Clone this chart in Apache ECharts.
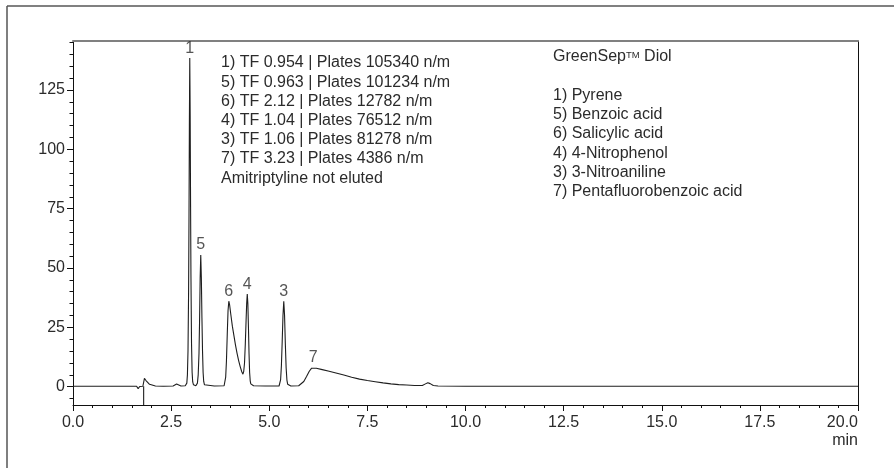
<!DOCTYPE html>
<html>
<head>
<meta charset="utf-8">
<style>
  html, body { margin: 0; padding: 0; background: #ffffff; }
  #chart { width: 894px; height: 468px; }
</style>
<script src="https://cdn.jsdelivr.net/npm/echarts@6/dist/echarts.min.js"></script>
</head>
<body>
<div id="chart"></div>
<script>
// ---- data ----
var times = [
  0.0, 0.5, 1.0, 1.5, 1.62, 1.66, 1.70, 1.78, 1.80, 1.82, 1.86, 1.90, 1.95, 2.00, 2.10, 2.30,
  2.55, 2.60, 2.64, 2.68, 2.75, 2.86, 2.88, 2.90, 2.915, 2.93, 2.945, 2.955, 2.965, 2.975,
  2.985, 2.995, 3.005, 3.02, 3.035, 3.05, 3.07, 3.10, 3.13, 3.15, 3.17, 3.19, 3.21, 3.225,
  3.24, 3.255, 3.27, 3.285, 3.30, 3.315, 3.33, 3.35, 3.38, 3.60, 3.85, 3.87, 3.89, 3.91,
  3.93, 3.95, 3.97, 3.99, 4.02, 4.06, 4.10, 4.14, 4.18, 4.22, 4.26, 4.30, 4.33, 4.35, 4.37,
  4.39, 4.41, 4.425, 4.44, 4.455, 4.47, 4.485, 4.50, 4.515, 4.53, 4.56, 4.60, 4.90, 5.25,
  5.27, 5.29, 5.31, 5.33, 5.35, 5.37, 5.39, 5.41, 5.43, 5.45, 5.47, 5.50, 5.55, 5.75, 5.80,
  5.88, 5.95, 6.02, 6.08, 6.12, 6.20, 6.35, 6.50, 6.70, 6.90, 7.10, 7.30, 7.50, 7.70, 7.90,
  8.10, 8.30, 8.50, 8.70, 8.90, 8.98, 9.04, 9.10, 9.18, 9.30, 10.0, 12.0, 14.0, 16.0, 18.0, 20.0
];
var signal = [
  0.2, 0.2, 0.2, 0.2, 0.2, -0.8, 0.1, 0.2, 0.2, 3.5, 2.6, 1.8, 1.0, 0.5, 0.3, 0.2,
  0.3, 0.8, 1.1, 0.6, 0.3, 0.4, 0.6, 1.5, 5, 15, 40, 70, 110, 138.4,
  115, 78, 47, 18, 6, 2, 0.8, 0.4, 0.4, 0.5, 1.5, 5, 14, 28,
  46, 55.5, 46, 29, 15, 6, 2.2, 0.8, 0.4, 0.3, 0.4, 1, 4, 11,
  22, 32, 36, 34.5, 30.5, 25.5, 21.5, 17.5, 14, 11, 8.5, 6.3, 5.3, 6.5, 10,
  18, 28, 35, 39, 35, 25, 14, 6, 2.5, 1.2, 0.6, 0.4, 0.3, 0.3,
  0.8, 3, 9, 19, 30, 36, 30, 18, 8, 2.8, 1, 0.4, 0.3, 0.4, 0.8,
  2.2, 4.3, 6.5, 7.8, 8.0, 7.8, 7.2, 6.6, 5.8, 4.9, 4.0, 3.2, 2.6, 2.1, 1.6,
  1.2, 0.9, 0.7, 0.5, 0.5, 1.2, 1.7, 1.3, 0.5, 0.3, 0.2, 0.2, 0.2, 0.2, 0.2, 0.2
];
var injectionTime = 1.80;
var peakNames = ['1', '5', '6', '4', '3', '7'];
var peakTimes = [2.975, 3.255, 3.97, 4.44, 5.37, 6.12];
var peakHeights = [138.4, 55.5, 36, 39, 36, 8];
var xMin = 0, xMax = 20, xStep = 2.5;
var yMin = -7.7, yMax = 145.6;
var yMajorTicks = [0, 25, 50, 75, 100, 125];
var yMinorTicks = [-5, 5, 10, 15, 20, 30, 35, 40, 45, 55, 60, 65, 70, 80, 85, 90, 95, 105, 110, 115, 120, 130, 135, 140, 145];
var infoLines = [
  '1) TF 0.954 | Plates 105340 n/m',
  '5) TF 0.963 | Plates 101234 n/m',
  '6) TF 2.12 | Plates 12782 n/m',
  '4) TF 1.04 | Plates 76512 n/m',
  '3) TF 1.06 | Plates 81278 n/m',
  '7) TF 3.23 | Plates 4386 n/m',
  'Amitriptyline not eluted'
];
var legendTitle = ['GreenSep', 'TM', ' Diol'];
var legendLines = [
  '1) Pyrene',
  '5) Benzoic acid',
  '6) Salicylic acid',
  '4) 4-Nitrophenol',
  '3) 3-Nitroaniline',
  '7) Pentafluorobenzoic acid'
];
var xUnit = 'min';

// ---- build chart ----
var FONT = '"Liberation Sans", Arial, sans-serif';
var FS = 16;
var TXT = '#2b2b2b';
var trace = times.map(function (t, i) { return [t, signal[i]]; });
var peakPts = peakTimes.map(function (t, i) { return { value: [t, peakHeights[i]], name: peakNames[i] }; });

var graphics = [
  { type: 'line', shape: { x1: 7, y1: 6, x2: 894, y2: 6 }, style: { stroke: '#808080', lineWidth: 2 } },
  { type: 'line', shape: { x1: 7, y1: 6, x2: 7, y2: 468 }, style: { stroke: '#555555', lineWidth: 1.5 } },
  { type: 'text', x: 858, y: 441, style: { text: xUnit, font: FS + 'px ' + FONT, fill: TXT, textAlign: 'right', textVerticalAlign: 'middle' } }
];
infoLines.forEach(function (s, i) {
  graphics.push({ type: 'text', x: 221, y: 63 + i * 19.2,
    style: { text: s, font: FS + 'px ' + FONT, fill: TXT, textVerticalAlign: 'middle' } });
});
graphics.push({ type: 'text', x: 553, y: 57, style: {
  text: '{a|' + legendTitle[0] + '}{s|' + legendTitle[1] + '}{a|' + legendTitle[2] + '}',
  textVerticalAlign: 'middle', fill: TXT,
  rich: {
    a: { fontSize: FS, fontFamily: FONT, fill: TXT },
    s: { fontSize: 9.5, fontFamily: FONT, fill: TXT, verticalAlign: 'top', padding: [1, 0, 0, 0] }
  }
} });
legendLines.forEach(function (s, i) {
  graphics.push({ type: 'text', x: 553, y: 95.5 + i * 19.2,
    style: { text: s, font: FS + 'px ' + FONT, fill: TXT, textVerticalAlign: 'middle' } });
});

var chart = echarts.init(document.getElementById('chart'), null, { renderer: 'canvas' });
chart.setOption({
  animation: false,
  backgroundColor: '#ffffff',
  grid: { left: 73, right: 36, top: 41, bottom: 63, containLabel: false },
  xAxis: [{
    type: 'value', min: xMin, max: xMax, interval: xStep, position: 'bottom',
    axisLine: { onZero: false, lineStyle: { color: '#111', width: 1 } },
    axisTick: { length: 6, lineStyle: { color: '#111' } },
    minorTick: { show: true, splitNumber: 5, length: 3, lineStyle: { color: '#111' } },
    splitLine: { show: false },
    axisLabel: { margin: 10, color: TXT, fontFamily: FONT, fontSize: FS, alignMaxLabel: 'right',
      formatter: function (v) { return v.toFixed(1); } }
  }, {
    type: 'value', min: xMin, max: xMax, position: 'top',
    axisLine: { show: true, onZero: false, lineStyle: { color: '#808080', width: 2 } },
    axisTick: { show: false }, axisLabel: { show: false }, splitLine: { show: false }
  }],
  yAxis: [{
    type: 'value', min: yMin, max: yMax, position: 'left',
    axisLine: { show: true, onZero: false, lineStyle: { color: '#111', width: 1 } },
    axisTick: { show: true, length: 6, customValues: yMajorTicks, lineStyle: { color: '#111' } },
    axisLabel: { show: true, margin: 8, customValues: yMajorTicks, color: TXT, fontFamily: FONT, fontSize: FS },
    splitLine: { show: false }
  }, {
    type: 'value', min: yMin, max: yMax, position: 'left', offset: 0,
    axisLine: { show: false, onZero: false },
    axisTick: { show: true, length: 3.5, customValues: yMinorTicks, lineStyle: { color: '#111' } },
    axisLabel: { show: false }, splitLine: { show: false }
  }, {
    type: 'value', min: yMin, max: yMax, position: 'right',
    axisLine: { show: true, onZero: false, lineStyle: { color: '#111', width: 1 } },
    axisTick: { show: false }, axisLabel: { show: false }, splitLine: { show: false }
  }],
  series: [{
    type: 'line', xAxisIndex: 0, yAxisIndex: 0, data: trace, showSymbol: false, symbol: 'none',
    lineStyle: { color: '#1e1e1e', width: 1.1 }, z: 3
  }, {
    type: 'line', xAxisIndex: 0, yAxisIndex: 0, showSymbol: false, symbol: 'none',
    data: [[injectionTime, yMin], [injectionTime, signal[times.indexOf(injectionTime)]]],
    lineStyle: { color: '#1e1e1e', width: 1.1 }, z: 3
  }, {
    type: 'scatter', xAxisIndex: 0, yAxisIndex: 0, data: peakPts, symbolSize: 0,
    label: { show: true, position: 'top', distance: 2, formatter: '{b}', color: TXT, fontFamily: FONT, fontSize: FS },
    z: 4
  }],
  graphic: graphics
});
</script>
</body>
</html>
